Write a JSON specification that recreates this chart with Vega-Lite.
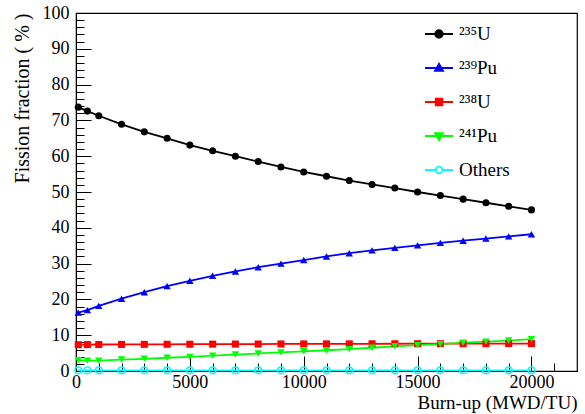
{
  "$schema": "https://vega.github.io/schema/vega-lite/v6.json",
  "width": 501,
  "height": 358,
  "autosize": {"type": "none"},
  "padding": {"left": 76, "top": 13, "right": 8, "bottom": 43},
  "background": "white",
  "config": {
    "font": "Liberation Serif",
    "view": {"stroke": "black", "strokeWidth": 1.2},
    "axis": {"grid": false, "domainColor": "black", "tickColor": "black", "labelColor": "black", "titleColor": "black", "labelFont": "Liberation Serif", "titleFont": "Liberation Serif", "labelFontSize": 18, "titleFontSize": 20, "titleFontWeight": "normal"},
    "legend": {"labelFont": "Liberation Serif"}
  },
  "data": {
    "values": [
      {"burnup": 100, "series": "U235", "frac": 73.7},
      {"burnup": 500, "series": "U235", "frac": 72.6},
      {"burnup": 1000, "series": "U235", "frac": 71.3},
      {"burnup": 2000, "series": "U235", "frac": 68.9},
      {"burnup": 3000, "series": "U235", "frac": 66.8},
      {"burnup": 4000, "series": "U235", "frac": 65.0},
      {"burnup": 5000, "series": "U235", "frac": 63.1},
      {"burnup": 6000, "series": "U235", "frac": 61.5},
      {"burnup": 7000, "series": "U235", "frac": 60.0},
      {"burnup": 8000, "series": "U235", "frac": 58.5},
      {"burnup": 9000, "series": "U235", "frac": 57.0},
      {"burnup": 10000, "series": "U235", "frac": 55.6},
      {"burnup": 11000, "series": "U235", "frac": 54.4},
      {"burnup": 12000, "series": "U235", "frac": 53.2},
      {"burnup": 13000, "series": "U235", "frac": 52.1},
      {"burnup": 14000, "series": "U235", "frac": 51.1},
      {"burnup": 15000, "series": "U235", "frac": 50.0},
      {"burnup": 16000, "series": "U235", "frac": 49.0},
      {"burnup": 17000, "series": "U235", "frac": 48.0},
      {"burnup": 18000, "series": "U235", "frac": 47.0},
      {"burnup": 19000, "series": "U235", "frac": 46.0},
      {"burnup": 20000, "series": "U235", "frac": 45.0},
      {"burnup": 100, "series": "Pu239", "frac": 16.3},
      {"burnup": 500, "series": "Pu239", "frac": 17.0},
      {"burnup": 1000, "series": "Pu239", "frac": 18.2},
      {"burnup": 2000, "series": "Pu239", "frac": 20.2},
      {"burnup": 3000, "series": "Pu239", "frac": 22.0},
      {"burnup": 4000, "series": "Pu239", "frac": 23.7},
      {"burnup": 5000, "series": "Pu239", "frac": 25.2},
      {"burnup": 6000, "series": "Pu239", "frac": 26.6},
      {"burnup": 7000, "series": "Pu239", "frac": 27.8},
      {"burnup": 8000, "series": "Pu239", "frac": 29.0},
      {"burnup": 9000, "series": "Pu239", "frac": 30.0},
      {"burnup": 10000, "series": "Pu239", "frac": 31.0},
      {"burnup": 11000, "series": "Pu239", "frac": 32.0},
      {"burnup": 12000, "series": "Pu239", "frac": 32.9},
      {"burnup": 13000, "series": "Pu239", "frac": 33.7},
      {"burnup": 14000, "series": "Pu239", "frac": 34.4},
      {"burnup": 15000, "series": "Pu239", "frac": 35.1},
      {"burnup": 16000, "series": "Pu239", "frac": 35.8},
      {"burnup": 17000, "series": "Pu239", "frac": 36.4},
      {"burnup": 18000, "series": "Pu239", "frac": 37.0},
      {"burnup": 19000, "series": "Pu239", "frac": 37.6},
      {"burnup": 20000, "series": "Pu239", "frac": 38.2},
      {"burnup": 100, "series": "U238", "frac": 7.35},
      {"burnup": 500, "series": "U238", "frac": 7.38},
      {"burnup": 1000, "series": "U238", "frac": 7.4},
      {"burnup": 2000, "series": "U238", "frac": 7.42},
      {"burnup": 3000, "series": "U238", "frac": 7.44},
      {"burnup": 4000, "series": "U238", "frac": 7.46},
      {"burnup": 5000, "series": "U238", "frac": 7.48},
      {"burnup": 6000, "series": "U238", "frac": 7.5},
      {"burnup": 7000, "series": "U238", "frac": 7.52},
      {"burnup": 8000, "series": "U238", "frac": 7.53},
      {"burnup": 9000, "series": "U238", "frac": 7.55},
      {"burnup": 10000, "series": "U238", "frac": 7.56},
      {"burnup": 11000, "series": "U238", "frac": 7.57},
      {"burnup": 12000, "series": "U238", "frac": 7.58},
      {"burnup": 13000, "series": "U238", "frac": 7.6},
      {"burnup": 14000, "series": "U238", "frac": 7.61},
      {"burnup": 15000, "series": "U238", "frac": 7.62},
      {"burnup": 16000, "series": "U238", "frac": 7.63},
      {"burnup": 17000, "series": "U238", "frac": 7.64},
      {"burnup": 18000, "series": "U238", "frac": 7.65},
      {"burnup": 19000, "series": "U238", "frac": 7.66},
      {"burnup": 20000, "series": "U238", "frac": 7.67},
      {"burnup": 100, "series": "Pu241", "frac": 3.0},
      {"burnup": 500, "series": "Pu241", "frac": 2.9},
      {"burnup": 1000, "series": "Pu241", "frac": 2.9},
      {"burnup": 2000, "series": "Pu241", "frac": 3.2},
      {"burnup": 3000, "series": "Pu241", "frac": 3.4},
      {"burnup": 4000, "series": "Pu241", "frac": 3.7},
      {"burnup": 5000, "series": "Pu241", "frac": 3.95},
      {"burnup": 6000, "series": "Pu241", "frac": 4.3},
      {"burnup": 7000, "series": "Pu241", "frac": 4.6},
      {"burnup": 8000, "series": "Pu241", "frac": 4.9},
      {"burnup": 9000, "series": "Pu241", "frac": 5.2},
      {"burnup": 10000, "series": "Pu241", "frac": 5.5},
      {"burnup": 11000, "series": "Pu241", "frac": 5.8},
      {"burnup": 12000, "series": "Pu241", "frac": 6.1},
      {"burnup": 13000, "series": "Pu241", "frac": 6.5},
      {"burnup": 14000, "series": "Pu241", "frac": 6.9},
      {"burnup": 15000, "series": "Pu241", "frac": 7.2},
      {"burnup": 16000, "series": "Pu241", "frac": 7.5},
      {"burnup": 17000, "series": "Pu241", "frac": 7.9},
      {"burnup": 18000, "series": "Pu241", "frac": 8.2},
      {"burnup": 19000, "series": "Pu241", "frac": 8.5},
      {"burnup": 20000, "series": "Pu241", "frac": 8.9},
      {"burnup": 100, "series": "Others", "frac": 0.2},
      {"burnup": 500, "series": "Others", "frac": 0.2},
      {"burnup": 1000, "series": "Others", "frac": 0.2},
      {"burnup": 2000, "series": "Others", "frac": 0.2},
      {"burnup": 3000, "series": "Others", "frac": 0.2},
      {"burnup": 4000, "series": "Others", "frac": 0.2},
      {"burnup": 5000, "series": "Others", "frac": 0.2},
      {"burnup": 6000, "series": "Others", "frac": 0.2},
      {"burnup": 7000, "series": "Others", "frac": 0.2},
      {"burnup": 8000, "series": "Others", "frac": 0.2},
      {"burnup": 9000, "series": "Others", "frac": 0.2},
      {"burnup": 10000, "series": "Others", "frac": 0.2},
      {"burnup": 11000, "series": "Others", "frac": 0.2},
      {"burnup": 12000, "series": "Others", "frac": 0.2},
      {"burnup": 13000, "series": "Others", "frac": 0.2},
      {"burnup": 14000, "series": "Others", "frac": 0.2},
      {"burnup": 15000, "series": "Others", "frac": 0.2},
      {"burnup": 16000, "series": "Others", "frac": 0.2},
      {"burnup": 17000, "series": "Others", "frac": 0.2},
      {"burnup": 18000, "series": "Others", "frac": 0.2},
      {"burnup": 19000, "series": "Others", "frac": 0.2},
      {"burnup": 20000, "series": "Others", "frac": 0.2}
    ]
  },
  "encoding": {
    "x": {
      "field": "burnup", "type": "quantitative",
      "scale": {"domain": [0, 22000], "nice": false, "zero": false},
      "axis": {
        "title": "Burn-up (MWD/TU)", "titleAnchor": "end", "titlePadding": 2, "titleFontSize": 19,
        "titleFont": "Liberation Serif", "labelFont": "Liberation Serif",
        "values": [0,1000,2000,3000,4000,5000,6000,7000,8000,9000,10000,11000,12000,13000,14000,15000,16000,17000,18000,19000,20000,21000],
        "format": "d",
        "labelExpr": "datum.value % 5000 === 0 ? datum.label : ''",
        "tickSize": {"condition": {"test": "datum.value % 5000 === 0", "value": -15}, "value": -8},
        "labelPadding": 17,
        "labelFlush": false
      }
    },
    "y": {
      "field": "frac", "type": "quantitative",
      "scale": {"domain": [0, 100], "nice": false},
      "axis": {
        "title": "Fission fraction ( % )", "titleAnchor": "end", "titlePadding": 10,
        "titleFont": "Liberation Serif", "labelFont": "Liberation Serif",
        "values": [0,2,4,6,8,10,12,14,16,18,20,22,24,26,28,30,32,34,36,38,40,42,44,46,48,50,52,54,56,58,60,62,64,66,68,70,72,74,76,78,80,82,84,86,88,90,92,94,96,98,100],
        "labelExpr": "datum.value % 10 === 0 ? datum.label : ''",
        "tickSize": {"condition": {"test": "datum.value % 10 === 0", "value": -15}, "value": -8},
        "labelPadding": 22,
        "labelFlush": false
      }
    }
  },
  "layer": [
    {
      "mark": {"type": "line", "strokeWidth": 1.8},
      "encoding": {
        "stroke": {
          "field": "series", "type": "nominal",
          "scale": {"domain": ["U235", "Pu239", "U238", "Pu241", "Others"], "range": ["black", "blue", "red", "#00ff00", "cyan"]},
          "legend": {
            "title": null, "orient": "none", "legendX": 352, "legendY": 10,
            "padding": 0, "symbolSize": 400, "labelFontSize": 19, "labelOffset": 9,
            "rowPadding": 13, "labelColor": "black", "symbolStrokeWidth": 1.8,
            "labelFont": "Liberation Serif",
            "labelExpr": "{'U235': '²³⁵U', 'Pu239': '²³⁹Pu', 'U238': '²³⁸U', 'Pu241': '²⁴¹Pu', 'Others': 'Others'}[datum.value]",
            "encode": {
              "symbols": {
                "update": {
                  "shape": {"signal": "datum.value === 'U235' ? 'M-1.4,0H1.4M0.38,0A0.38,0.38,0,1,1,-0.38,0A0.38,0.38,0,1,1,0.38,0Z' : datum.value === 'Pu239' ? 'M-1.4,0H1.4M0,-0.42L0.4,0.28L-0.4,0.28Z' : datum.value === 'U238' ? 'M-1.4,0H1.4M-0.33,-0.33H0.33V0.33H-0.33Z' : datum.value === 'Pu241' ? 'M-1.4,0H1.4M0,0.42L0.4,-0.28L-0.4,-0.28Z' : 'M-1.4,0H-0.33M0.33,0H1.4M0.33,0A0.33,0.33,0,1,1,-0.33,0A0.33,0.33,0,1,1,0.33,0Z'"},
                  "fill": {"signal": "datum.value === 'U235' ? 'black' : datum.value === 'Pu239' ? 'blue' : datum.value === 'U238' ? 'red' : datum.value === 'Pu241' ? '#00ff00' : 'transparent'"},
                  "fillOpacity": {"value": 1}
                }
              }
            }
          }
        }
      }
    },
    {
      "transform": [{"filter": "datum.series === 'U235'"}],
      "mark": {"type": "point", "shape": "circle", "size": 50, "filled": true, "color": "black", "opacity": 1}
    },
    {
      "transform": [{"filter": "datum.series === 'Pu239'"}],
      "mark": {"type": "point", "shape": "triangle-up", "size": 55, "filled": true, "color": "blue", "opacity": 1}
    },
    {
      "transform": [{"filter": "datum.series === 'U238'"}],
      "mark": {"type": "point", "shape": "square", "size": 50, "filled": true, "color": "red", "opacity": 1}
    },
    {
      "transform": [{"filter": "datum.series === 'Pu241'"}],
      "mark": {"type": "point", "shape": "triangle-down", "size": 55, "filled": true, "color": "#00ff00", "opacity": 1}
    },
    {
      "transform": [{"filter": "datum.series === 'Others'"}],
      "mark": {"type": "point", "shape": "circle", "size": 45, "filled": false, "color": "cyan", "strokeWidth": 1.5, "opacity": 1}
    }
  ]
}
